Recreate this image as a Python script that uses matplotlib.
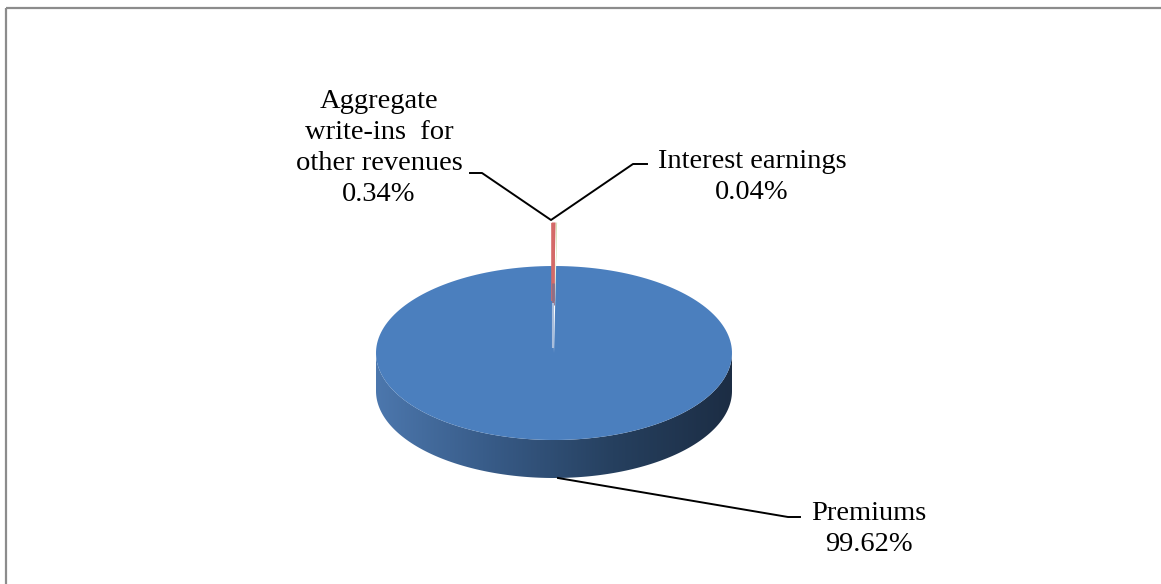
import numpy as np
import matplotlib.pyplot as plt
from matplotlib.patches import Polygon, Rectangle
from matplotlib.colors import LinearSegmentedColormap

# Data
categories = ['Premiums', 'Aggregate\nwrite-ins  for\nother revenues', 'Interest earnings']
shares = [99.62, 0.34, 0.04]
pct_labels = ['99.62%', '0.34%', '0.04%']
top_colors = ['#4b7fbe', '#d0625f', '#9bbb59']

# Pie geometry (pixels, y grows downward)
cx, cy = 554, 353
ra, rb = 178, 87
depth = 38
explode = [0.0, 0.5, 0.5]


def ellipse_pts(t0, t1, dx=0.0, dy=0.0, n=200):
    t = np.radians(np.linspace(t0, t1, n))
    return np.column_stack([cx + dx + ra * np.cos(t), cy + dy - rb * np.sin(t)])


plt.rcParams['font.family'] = ['Liberation Serif', 'DejaVu Serif']

fig = plt.figure(figsize=(11.61, 5.84), dpi=100)
ax = fig.add_axes([0, 0, 1, 1])
ax.set_xlim(0, 1161)
ax.set_ylim(584, 0)
ax.axis('off')

# frame of the chart area
ax.add_patch(Rectangle((5.5, 7.5), 1200, 700, fill=False, ec='#8c8c8c', lw=1.6))

# slice angles, clockwise, small slices centred at the back (90 deg)
fr = np.array(shares) / sum(shares) * 360
start = 90 + fr[1] / 2 + fr[2] / 2 + fr[0]
bounds = []
a0 = start
for f in fr:
    bounds.append((a0, a0 - f))
    a0 -= f

# side wall of the main pie (front half)
front = ellipse_pts(180, 360)
back = front[::-1] + np.array([0, depth])
side = Polygon(np.vstack([front, back]), closed=True, fc='none', ec='none')
ax.add_patch(side)
cmap = LinearSegmentedColormap.from_list('side', ['#4c77ad', '#375a86', '#26405f', '#1c2d44'])
grad = np.linspace(0, 1, 256).reshape(1, -1)
im = ax.imshow(grad, cmap=cmap, aspect='auto', extent=(cx - ra, cx + ra, cy + rb + depth, cy - 5),
               zorder=1)
im.set_clip_path(side)

# top faces
for i, (t0, t1) in enumerate(bounds):
    tm = np.radians((t0 + t1) / 2)
    dx = explode[i] * ra * np.cos(tm)
    dy = -explode[i] * rb * np.sin(tm)
    pts = ellipse_pts(t1, t0, dx, dy)
    pts = np.vstack([[cx + dx, cy + dy], pts])
    ax.add_patch(Polygon(pts, closed=True, fc=top_colors[i], ec='none', zorder=2))
    if i == 1:
        # cut face of the pulled-out sliver
        top_y = cy + dy - rb
        ax.plot([cx + dx - 0.5] * 2, [top_y, top_y + 78], color='#d46a68',
                lw=2.6, solid_capstyle='butt', zorder=3)
        ax.plot([cx + dx - 0.5] * 2, [top_y + 60, top_y + 82], color='#8e6f86',
                lw=2.0, solid_capstyle='butt', zorder=3)
        ax.plot([cx + dx - 0.5] * 2, [top_y + 80, cy - 5], color='#a9bedc',
                lw=1.5, solid_capstyle='butt', zorder=3)

# leader lines
ax.plot([470, 482, 551, 633, 647], [173, 173, 220, 164, 164], color='black', lw=1.4, zorder=4)
ax.plot([558, 788, 800], [478, 517, 517], color='black', lw=1.4, zorder=4)

# labels
fs = 20.5
ls = 1.33
ax.text(379, 148, categories[1] + '\n' + pct_labels[1], ha='center', va='center',
        multialignment='center', fontsize=fs, linespacing=ls)
ax.text(752, 177, categories[2] + '\n' + pct_labels[2], ha='center', va='center',
        multialignment='center', fontsize=fs, linespacing=ls)
ax.text(869, 529, categories[0] + '\n' + pct_labels[0], ha='center', va='center',
        multialignment='center', fontsize=fs, linespacing=ls)

fig.savefig('out.png', dpi=100)
